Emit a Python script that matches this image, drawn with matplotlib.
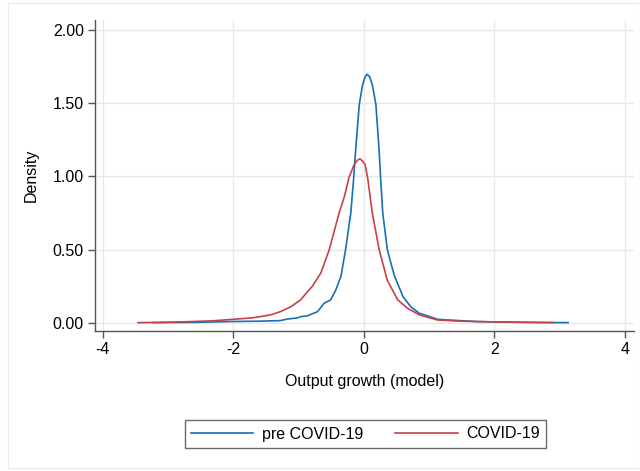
import matplotlib
matplotlib.use("Agg")
import matplotlib.pyplot as plt
from matplotlib.patches import Rectangle

plt.rcParams['font.family'] = ['Liberation Sans', 'DejaVu Sans']

pre_x = [-3.23, -2.6, -2.0, -1.6, -1.28, -1.17, -1.02, -0.97, -0.87, -0.71, -0.61, -0.51,
         -0.43, -0.35, -0.28, -0.2, -0.16, -0.12, -0.07, -0.02, 0.02, 0.05, 0.09, 0.13,
         0.185, 0.235, 0.26, 0.29, 0.36, 0.42, 0.47, 0.6, 0.72, 0.85, 0.93, 1.13, 1.3,
         1.54, 1.7, 2.0, 2.5, 3.13]
pre_y = [0.002, 0.004, 0.01, 0.012, 0.016, 0.027, 0.034, 0.043, 0.048, 0.077, 0.134, 0.157,
         0.225, 0.32, 0.50, 0.75, 0.965, 1.215, 1.49, 1.625, 1.68, 1.698, 1.68, 1.625,
         1.49, 1.17, 0.965, 0.75, 0.50, 0.40, 0.32, 0.18, 0.11, 0.066, 0.055, 0.025, 0.02,
         0.014, 0.01, 0.007, 0.004, 0.002]

cov_x = [-3.46, -3.0, -2.66, -2.3, -2.0, -1.7, -1.43, -1.28, -1.12, -0.97, -0.87, -0.79,
         -0.66, -0.53, -0.38, -0.30, -0.25, -0.23, -0.15, -0.1, -0.06, -0.02, 0.02, 0.06,
         0.13, 0.235, 0.36, 0.52, 0.67, 0.85, 1.13, 1.5, 2.0, 2.5, 2.9]
cov_y = [0.002, 0.005, 0.009, 0.015, 0.025, 0.035, 0.055, 0.077, 0.11, 0.157, 0.21, 0.25,
         0.34, 0.50, 0.75, 0.86, 0.95, 0.99, 1.08, 1.11, 1.12, 1.105, 1.08, 0.985,
         0.75, 0.50, 0.29, 0.157, 0.10, 0.055, 0.02, 0.012, 0.007, 0.004, 0.002]

xticks = [-4, -2, 0, 2, 4]
yticks = [0.0, 0.5, 1.0, 1.5, 2.0]
ytick_labels = ["0.00", "0.50", "1.00", "1.50", "2.00"]
series_labels = ["pre COVID-19", "COVID-19"]

W, H = 640, 471
FS = 11.5
fig = plt.figure(figsize=(6.4, 4.71), dpi=100)
fig.patches.append(Rectangle((8 / W, 1 - 468 / H), (W - 8) / W, (468 - 3) / H,
                             transform=fig.transFigure, fill=False,
                             edgecolor='#ececec', lw=1))

ax = fig.add_axes([95 / W, 1 - 331 / H, (634 - 95) / W, (331 - 20) / H])
blue = '#1a6fb5'
red = '#c4424b'
ax.plot(pre_x, pre_y, color=blue, lw=1.2, label=series_labels[0])
ax.plot(cov_x, cov_y, color=red, lw=1.2, label=series_labels[1])

ax.set_xlim(-4.12, 4.14)
ax.set_ylim(-0.055, 2.068)
ax.set_xticks(xticks)
ax.set_xticklabels([str(t) for t in xticks])
ax.set_yticks(yticks)
ax.set_yticklabels(ytick_labels)
ax.grid(True, color='#e8e8e8', lw=1)
ax.set_axisbelow(True)
for s in ['top', 'right']:
    ax.spines[s].set_visible(False)
for s in ['left', 'bottom']:
    ax.spines[s].set_color('#555555')
    ax.spines[s].set_linewidth(1.0)
ax.tick_params(direction='out', length=5, width=1, color='#555555', labelsize=FS,
               labelcolor='black')
ax.tick_params(axis='y', pad=3)
ax.tick_params(axis='x', pad=3)
ax.set_xlabel("Output growth (model)", fontsize=FS, labelpad=12)
ax.set_ylabel("Density", fontsize=FS, labelpad=10)

leg = fig.legend(loc='center', bbox_to_anchor=(365.5 / W, 1 - 434 / H), ncol=2,
                 fontsize=FS, frameon=True, fancybox=False, handlelength=3.9,
                 columnspacing=2.0, handletextpad=0.55, borderpad=0.4, borderaxespad=0)
leg.get_frame().set_edgecolor('#444444')
leg.get_frame().set_linewidth(1.0)

fig.savefig("out.png", dpi=100)
